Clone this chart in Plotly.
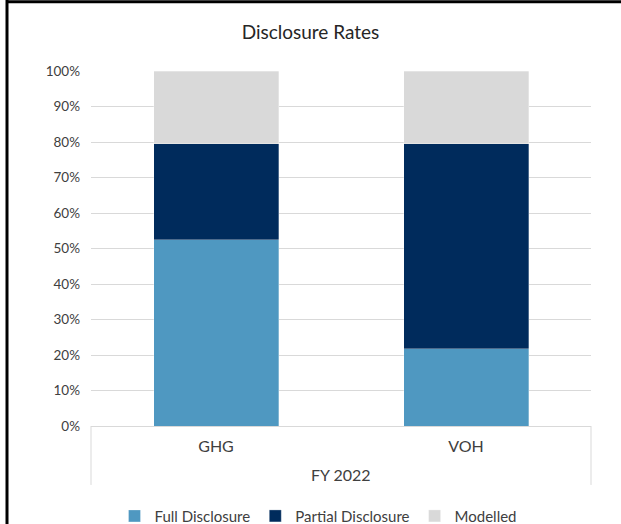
import plotly.graph_objects as go

# Disclosure shares by metric, FY 2022 (percent of total)
period = "FY 2022"
metrics = ["GHG", "VOH"]
full_disclosure = [52.4, 21.7]
partial_disclosure = [27.1, 57.8]
modelled = [20.5, 20.5]

series = [
    ("Full Disclosure", full_disclosure, "#4F98C1"),
    ("Partial Disclosure", partial_disclosure, "#002B5C"),
    ("Modelled", modelled, "#D9D9D9"),
]

FONT = "Lato, 'DejaVu Sans', sans-serif"
TEXT = "#404040"
GRID = "#D9D9D9"

fig = go.Figure()
for name, values, color in series:
    fig.add_trace(go.Bar(
        x=metrics,
        y=values,
        name=name,
        marker=dict(color=color, line=dict(color="rgba(255,255,255,0.6)", width=0.5)),
    ))

# group box under the category labels: bottom of the axis down to below the period label
box_bottom = -0.166
shapes = [
    dict(type="line", xref="paper", yref="paper", x0=0, x1=0, y0=0, y1=box_bottom,
         line=dict(color=GRID, width=1)),
    dict(type="line", xref="paper", yref="paper", x0=1, x1=1, y0=0, y1=box_bottom,
         line=dict(color=GRID, width=1)),
    # frame edges along the top and left
    dict(type="line", xref="paper", yref="paper", x0=-0.17, x1=1.2, y0=1.195, y1=1.195,
         line=dict(color="black", width=3)),
    dict(type="line", xref="paper", yref="paper", x0=-0.168, x1=-0.168, y0=1.21, y1=-0.3,
         line=dict(color="black", width=3)),
]

fig.update_layout(
    width=621,
    height=524,
    margin=dict(l=91, r=30, t=71, b=98, autoexpand=False),
    barmode="stack",
    bargap=0.5,
    paper_bgcolor="white",
    plot_bgcolor="white",
    font=dict(family=FONT, color=TEXT, size=13),
    title=dict(
        text="Disclosure Rates",
        x=0.5,
        xanchor="center",
        y=0.939,
        yanchor="middle",
        font=dict(family=FONT, size=19, color="#262626"),
    ),
    legend=dict(
        orientation="h",
        x=0.455,
        xanchor="center",
        y=-0.254,
        yanchor="middle",
        font=dict(family=FONT, size=15, color=TEXT),
        itemwidth=30,
        traceorder="normal",
    ),
    xaxis=dict(
        type="category",
        automargin=False,
        showline=True,
        linecolor=GRID,
        linewidth=1,
        ticks="",
        tickfont=dict(family=FONT, size=16, color=TEXT),
        ticklabelstandoff=6,
    ),
    yaxis=dict(
        range=[0, 100],
        dtick=10,
        ticksuffix="%",
        automargin=False,
        showgrid=True,
        gridcolor=GRID,
        gridwidth=1,
        zeroline=False,
        tickfont=dict(family=FONT, size=13.5, color=TEXT),
        ticklabelstandoff=10,
    ),
    annotations=[
        dict(text=period, xref="paper", yref="paper", x=0.5, y=-0.138,
             xanchor="center", yanchor="middle", showarrow=False,
             font=dict(family=FONT, size=16, color=TEXT)),
    ],
    shapes=shapes,
)

fig.write_html("out.html")
